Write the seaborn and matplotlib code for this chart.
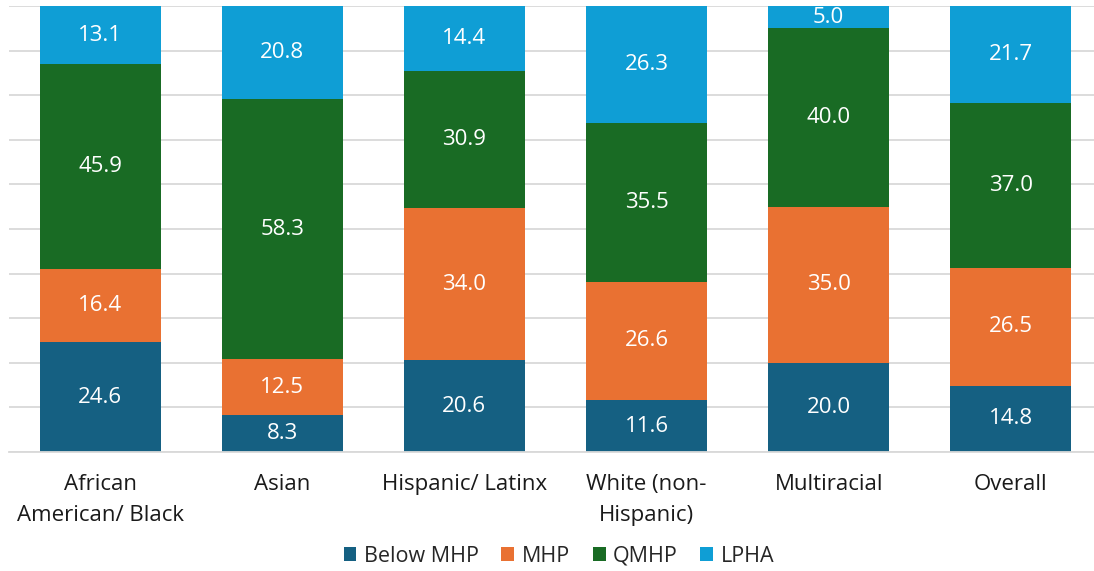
import matplotlib
matplotlib.use("Agg")
import matplotlib.pyplot as plt
from matplotlib.patches import Patch
import numpy as np
import seaborn as sns

# Categories and percentage shares per staff level
categories = ["African\nAmerican/ Black", "Asian", "Hispanic/ Latinx",
              "White (non-\nHispanic)", "Multiracial", "Overall"]
series_names = ["Below MHP", "MHP", "QMHP", "LPHA"]
below_mhp = [24.6, 8.3, 20.6, 11.6, 20.0, 14.8]
mhp = [16.4, 12.5, 34.0, 26.6, 35.0, 26.5]
qmhp = [45.9, 58.3, 30.9, 35.5, 40.0, 37.0]
lpha = [13.1, 20.8, 14.4, 26.3, 5.0, 21.7]

colors = ["#156082", "#E97132", "#196B24", "#0F9ED5"]

sns.set_theme(style="white")
plt.rcParams["font.family"] = ["Open Sans", "DejaVu Sans"]

fig = plt.figure(figsize=(10.94, 5.71), dpi=100)
ax = fig.add_axes([9 / 1094, 1 - 452 / 571, 1093 / 1094, (452 - 6) / 571])

positions = list(range(len(categories)))
bottom = np.zeros(len(categories))
for name, vals, col in zip(series_names, [below_mhp, mhp, qmhp, lpha], colors):
    vals = np.array(vals)
    sns.barplot(x=positions, y=vals, bottom=bottom, color=col, width=0.665,
                saturation=1, ax=ax, native_scale=True, linewidth=0)
    for xi, (b, v) in enumerate(zip(bottom, vals)):
        ax.text(xi, b + v / 2, f"{v:.1f}", ha="center", va="center",
                color="white", fontsize=16)
    bottom = bottom + vals

ax.set_xlim(-0.5, len(categories) - 0.5)
ax.set_ylim(0, 100)
ax.set_yticks(np.arange(0, 101, 10))
ax.set_yticklabels([])
ax.tick_params(axis="y", length=0)
ax.yaxis.grid(True, color="#D9D9D9", linewidth=1.3)
ax.set_axisbelow(True)
ax.set_xticks(positions)
ax.set_xticklabels(categories, fontsize=16, color="#1a1a1a", linespacing=1.6)
ax.tick_params(axis="x", length=0, pad=16)
for s in ["top", "right", "left"]:
    ax.spines[s].set_visible(False)
ax.spines["bottom"].set_color("#D9D9D9")
ax.spines["bottom"].set_linewidth(1.3)
ax.set_xlabel("")
ax.set_ylabel("")

handles = [Patch(facecolor=c, edgecolor="none") for c in colors]
fig.legend(handles, series_names, loc="center", bbox_to_anchor=(0.511, 1 - 556 / 571),
           ncol=4, frameon=False, fontsize=15.5, handlelength=0.6, handleheight=0.6,
           handletextpad=0.35, columnspacing=1.05)

fig.savefig("out.png", dpi=100)
